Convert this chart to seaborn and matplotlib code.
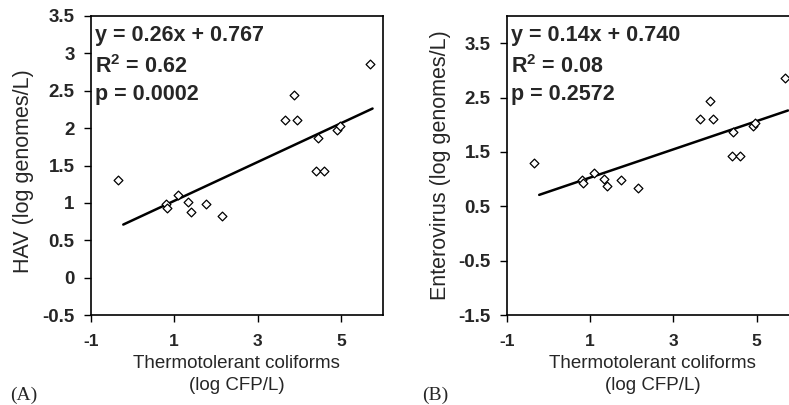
import matplotlib
matplotlib.use("Agg")
import matplotlib.pyplot as plt
import seaborn as sns
import numpy as np
import pandas as pd
from matplotlib.ticker import FormatStrFormatter

# ---- data ----
coliforms = [-0.34, 0.80, 0.82, 1.09, 1.33, 1.40, 1.75, 2.15, 3.65, 3.88, 3.94,
             4.44, 4.40, 4.59, 4.91, 4.96, 5.69]
virus = [1.30, 0.99, 0.93, 1.11, 1.01, 0.88, 0.98, 0.83, 2.11, 2.44, 2.11,
         1.87, 1.42, 1.42, 1.97, 2.03, 2.86]
trend_x = [-0.22, 5.75]
trend_slope = 0.26
trend_intercept = 0.767
panel_letters = ["(A)", "(B)"]
y_labels = ["HAV (log genomes/L)", "Enterovirus (log genomes/L)"]
eq_texts = ["y = 0.26x + 0.767", "y = 0.14x + 0.740"]
r2_values = ["0.62", "0.08"]
p_values = ["0.0002", "0.2572"]
x_ticks = [-1, 1, 3, 5]
y_ticks_a = [-0.5, 0, 0.5, 1, 1.5, 2, 2.5, 3, 3.5]
y_ticks_b = [-1.5, -0.5, 0.5, 1.5, 2.5, 3.5]

sns.set_style("ticks")
plt.rcParams["font.family"] = ["Liberation Sans", "DejaVu Sans"]
plt.rcParams["mathtext.fontset"] = "custom"
plt.rcParams["mathtext.rm"] = "Liberation Sans"
plt.rcParams["mathtext.bf"] = "Liberation Sans:bold"

df = pd.DataFrame({"x": coliforms, "y": virus})
tdf = pd.DataFrame({"x": trend_x, "y": [trend_slope * v + trend_intercept for v in trend_x]})

fig = plt.figure(figsize=(7.89, 4.05), dpi=100)
fig.patch.set_facecolor("white")
W, H = 789.0, 405.0
axA = fig.add_axes([90.7 / W, 90.0 / H, 292.3 / W, 299.0 / H])
axB = fig.add_axes([506.7 / W, 90.0 / H, 291.7 / W, 299.0 / H])

specs = [
    (axA, (-0.5, 3.5), y_ticks_a, (-0.195, 0.48)),
    (axB, (-1.5, 4.0), y_ticks_b, (-0.19, 0.50)),
]

for i, (ax, ylim, yticks, ylab_pos) in enumerate(specs):
    sns.scatterplot(data=df, x="x", y="y", ax=ax, marker="D", s=20,
                    facecolor="white", edgecolor="black", linewidth=0.9,
                    zorder=3, clip_on=True)
    sns.lineplot(data=tdf, x="x", y="y", ax=ax, color="black", linewidth=1.8,
                 zorder=2)
    ax.set_xlim(-1, 6)
    ax.set_ylim(*ylim)
    ax.set_xticks(x_ticks)
    ax.set_yticks(yticks)
    ax.yaxis.set_major_formatter(FormatStrFormatter("%g"))
    ax.xaxis.set_major_formatter(FormatStrFormatter("%g"))
    for sp in ax.spines.values():
        sp.set_visible(True)
        sp.set_color("black")
        sp.set_linewidth(1.2)
    ax.tick_params(axis="both", direction="out", length=5, width=1.0, color="black")
    ax.tick_params(axis="x", pad=9, labelsize=12.5)
    ax.tick_params(axis="y", pad=6.5, labelsize=13.5)
    for lab in ax.get_xticklabels() + ax.get_yticklabels():
        lab.set_fontweight("bold")
    ax.set_xlabel("Thermotolerant coliforms\n(log CFP/L)", fontsize=13.5,
                  linespacing=1.4, labelpad=4)
    ax.set_ylabel(y_labels[i], fontsize=15.5)
    ax.yaxis.set_label_coords(*ylab_pos)
    ax.grid(False)
    # annotation block
    ax.text(0.015, 0.917, eq_texts[i], transform=ax.transAxes, fontsize=15.5,
            fontweight="bold", va="baseline", ha="left")
    ax.text(0.015, 0.811, r"R$^\mathbf{2}$ = " + r2_values[i], transform=ax.transAxes,
            fontsize=15.5, fontweight="bold", va="baseline", ha="left")
    ax.text(0.015, 0.719, "p = " + p_values[i], transform=ax.transAxes,
            fontsize=15.5, fontweight="bold", va="baseline", ha="left")

fig.text(10 / W, 1 - 400 / H, panel_letters[0], fontsize=14,
         family=["Liberation Serif", "DejaVu Serif"], va="baseline", ha="left")
fig.text(422 / W, 1 - 400 / H, panel_letters[1], fontsize=14,
         family=["Liberation Serif", "DejaVu Serif"], va="baseline", ha="left")

fig.savefig("out.png", dpi=100, facecolor="white")
